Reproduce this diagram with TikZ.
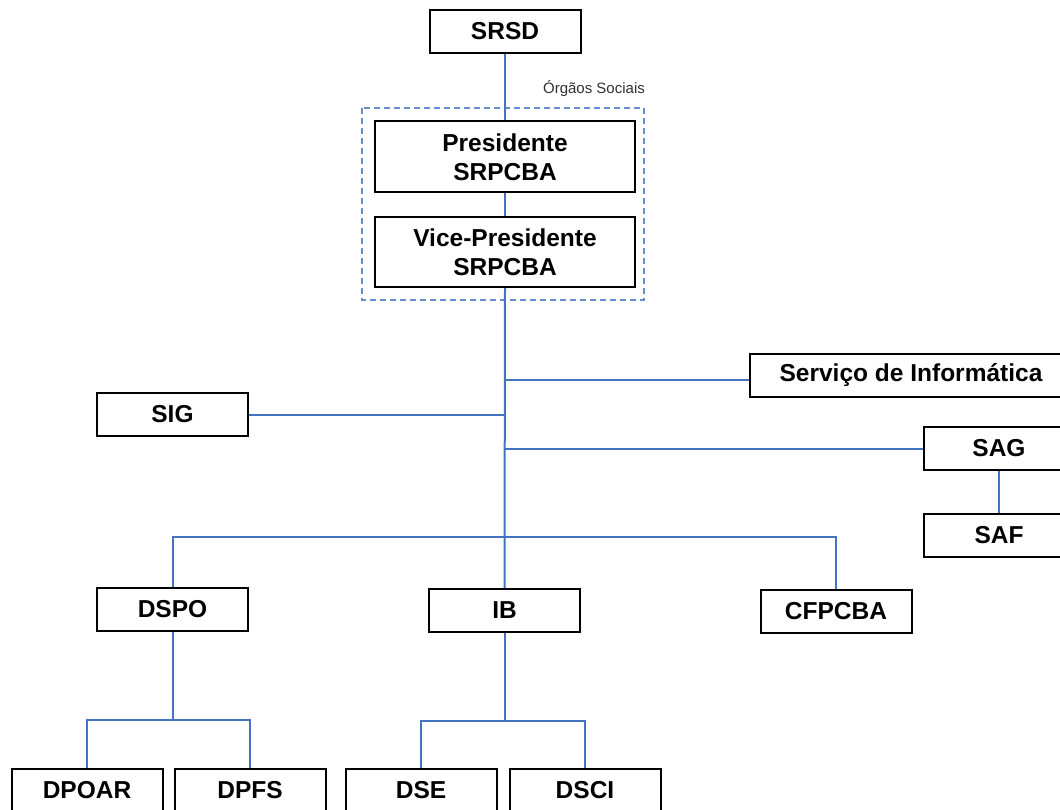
\documentclass[tikz,border=0pt]{standalone}
\usepackage{fontspec}
\setmainfont{Liberation Sans}
\definecolor{orgblue}{RGB}{68,114,196}
\definecolor{note}{RGB}{50,50,50}

\begin{document}
\begin{tikzpicture}[x=1pt, y=-1pt,
    unit/.style={draw=black, line width=2pt, fill=white, inner sep=0pt,
                 minimum width=151pt, minimum height=43pt, align=center,
                 font=\fontsize{24.5}{29}\selectfont\bfseries},
    wide/.style={unit, minimum width=260pt, minimum height=71pt},
    conn/.style={draw=orgblue, line width=2pt},
    frame/.style={draw=orgblue!80, line width=1.2pt, dash pattern=on 6pt off 4pt},
    note/.style={font=\fontsize{15}{17}\selectfont, color=note}]
  \path[fill=white, use as bounding box] (0,0) rectangle (1060,810);
  \clip (0,0) rectangle (1060,810);
  % top of the chart
  \node[unit] (srsd) at (505,31.5) {SRSD};
  \draw[frame] (362,108) rectangle (644,300);
  \node[note] (social) at (594,89) {Órgãos Sociais};
  \node[wide] (pres) at (505,157) {Presidente\\SRPCBA};
  \node[wide, minimum height=70pt] (vice) at (505,252) {Vice-Presidente\\SRPCBA};
  % side services
  \node[unit, minimum width=322pt] (info) at (911,375.5) {Serviço de Informática};
  \node[unit] (sig) at (172.5,414.5) {SIG};
  \node[unit] (sag) at (999,448.5) {SAG};
  \node[unit] (saf) at (999,535.5) {SAF};
  % departments
  \node[unit] (dspo) at (172.5,609.5) {DSPO};
  \node[unit] (ib) at (504.5,610.5) {IB};
  \node[unit] (cfp) at (836,611) {CFPCBA};
  \node[unit] (dpoar) at (87,790.5) {DPOAR};
  \node[unit] (dpfs) at (250,790.5) {DPFS};
  \node[unit] (dse) at (421,790.5) {DSE};
  \node[unit] (dsci) at (585,790.5) {DSCI};
  \coordinate (bus) at (504,537);

  \draw[conn] (srsd.south) -- (pres.north);
  \draw[conn] (pres.south) -- (vice.north);
  \draw[conn] (vice.south) -- (ib.north);
  \draw[conn] (vice.south |- 0,380) -- ([yshift=-4.5pt]info.west);
  \draw[conn] (vice.south |- sig.east) -- (sig.east);
  \draw[conn] (vice.south |- sag.west) -- (sag.west);
  \draw[conn] (sag.south) -- (saf.north);
  \draw[conn] (dspo.north) |- (bus) -| (cfp.north);
  \foreach \p/\a/\b in {dspo/dpoar/dpfs, ib/dse/dsci} {
    \draw[conn] (\p.south) -- ++(0,88) coordinate (j\p);
    \draw[conn] (\a.north) |- (j\p) -| (\b.north);
  }
\end{tikzpicture}
\end{document}
